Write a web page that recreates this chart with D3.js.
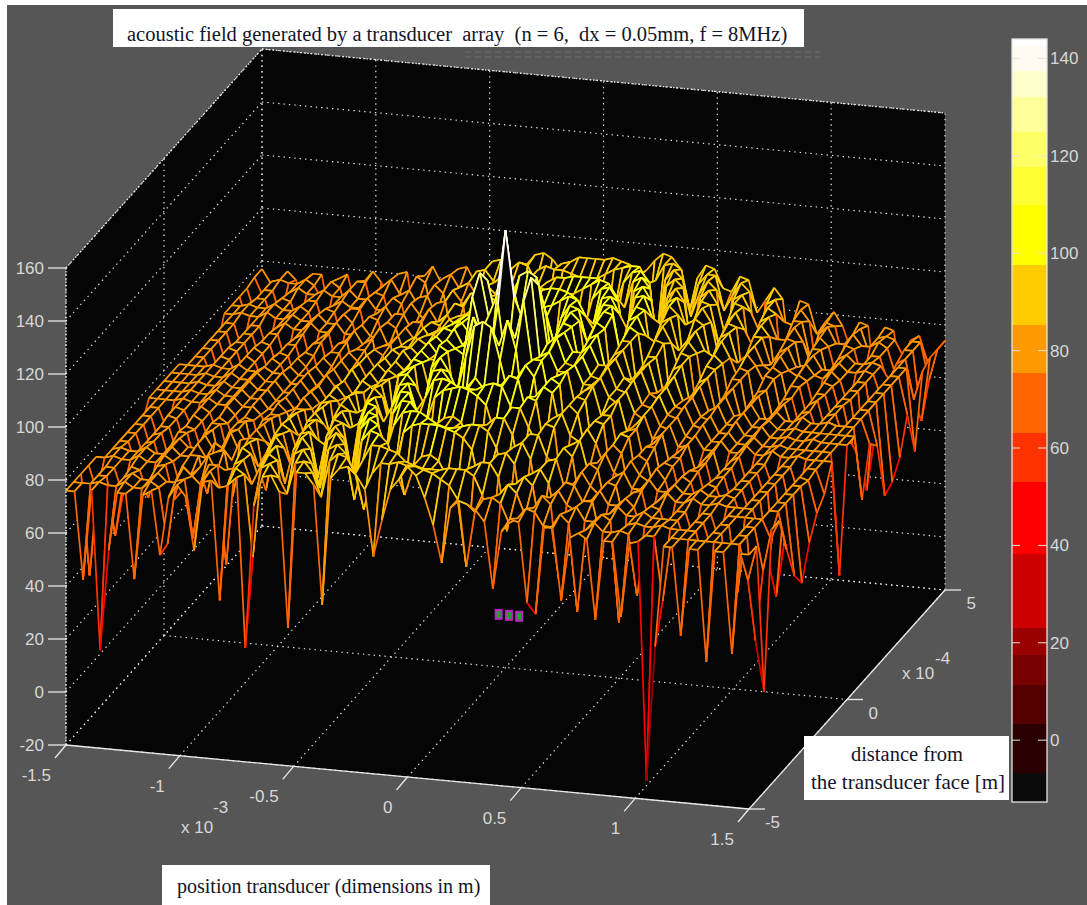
<!DOCTYPE html>
<html>
<head>
<meta charset="utf-8">
<title>acoustic field</title>
<script src="https://cdn.jsdelivr.net/npm/d3@7"></script>
<style>
  body { margin: 0; background: #fff; }
  svg { display: block; }
  text { white-space: pre; }
  .tick { font: 17px "Liberation Sans", Arial, sans-serif; fill: #d8d8d8; }
  .note { font: 20.5px "Liberation Serif", "Times New Roman", serif; fill: #14142a; }
</style>
</head>
<body>
<div id="chart"></div>
<script>
const width = 1087,
  height = 905;

// tick labels
const xTicks = [-1.5, -1, -0.5, 0, 0.5, 1, 1.5];
const yTicks = [-5, 0, 5];
const zTicks = [-20, 0, 20, 40, 60, 80, 100, 120, 140, 160];
const barTicks = [0, 20, 40, 60, 80, 100, 120, 140];

// colour bands
const bandLimits = [-6.8, 3.3, 11.3, 17.5, 23, 38.2, 53, 63, 75.4, 85.2, 97.5, 110, 117.7, 125, 132, 137.4, 142.5];
const bandColors = ["#0a0a0a", "#2a0000", "#550000", "#770000", "#990000", "#cc0000", "#ff0000", "#ff3300", "#ff6600", "#ff9900", "#ffcc00", "#ffff00", "#ffff33", "#ffff66", "#ffff99", "#ffffcc", "#fffaf0", "#ffffff"];

// transducer elements seen on the floor
const elementX = [-0.03, 0.015, 0.06];

// mesh positions: 81 columns in x (x 10^-3), 27 rows in y (x 10^-4)
const xValues = d3.range(-40, 41).map((i) => (i * 1.5) / 40);
const yValues = d3.range(-13, 14).map((j) => (j * 5) / 13);

// field level in dB, front row (y = -5) first
const fieldLevels = [
  [76,76,43,77,17,55,77,77,45,77,79,55,77,82,78,58,84,85,40,84,87,23,77,88,89,83,32,91,91,87,42,90,94,95,92,87,62,76,88,92,97,94,86,76,62,83,86,85,83,79,54,76,81,80,50,46,79,79,52,76,78,76,46,76,76,48,76,77,-13,38,76,76,43,76,76,34,76,76,38,76,76],
  [76,76,76,77,76,76,78,76,76,79,77,56,80,81,59,81,85,79,80,87,85,54,88,90,85,79,91,92,88,79,93,96,95,89,76,90,94,94,95,94,94,93,92,90,88,83,58,79,84,85,83,76,78,82,81,76,76,81,78,45,76,79,76,76,77,76,53,76,76,52,76,76,76,76,76,76,76,76,76,63,76],
  [76,38,76,76,54,76,78,76,76,79,76,76,82,79,76,84,84,47,85,87,78,85,90,88,62,91,93,88,79,94,96,93,76,91,97,97,96,95,92,91,90,90,90,91,91,91,89,82,60,83,87,84,76,79,84,81,52,79,81,76,76,79,77,39,76,77,76,76,77,76,76,76,76,63,76,76,51,76,76,37,18],
  [76,66,76,76,66,77,76,66,78,79,66,79,76,79,84,78,79,80,88,86,76,87,90,76,89,94,90,76,94,97,93,76,95,99,98,95,85,76,86,91,92,90,84,76,80,89,91,91,86,66,84,87,84,66,80,83,78,76,80,80,66,76,79,76,76,78,76,76,76,76,66,76,76,66,76,76,51,76,76,60,76],
  [76,76,77,76,76,78,76,76,79,77,66,80,80,66,82,83,66,83,87,78,84,90,86,78,92,93,76,92,96,92,76,96,100,98,89,82,96,99,100,100,100,99,98,96,92,77,83,91,92,88,66,85,87,82,66,83,82,76,77,81,76,76,79,76,66,77,76,66,76,76,66,76,76,66,76,76,76,76,76,69,76],
  [66,76,77,76,76,78,76,76,79,76,76,81,76,82,80,76,84,85,85,66,87,88,76,87,92,87,85,95,94,76,94,99,98,76,95,100,101,101,99,97,96,96,97,98,98,96,90,76,91,93,87,66,87,88,77,79,84,79,76,81,80,66,78,79,66,76,79,76,76,78,76,76,77,76,76,76,76,66,76,76,62],
  [66,76,76,66,76,77,66,76,79,76,76,81,76,77,83,76,78,85,81,77,88,86,76,90,91,66,92,95,89,91,99,98,76,96,101,101,97,77,87,96,97,95,85,76,95,98,98,92,76,93,93,85,82,89,86,66,84,82,66,80,82,76,76,80,76,76,79,76,76,78,76,76,77,76,66,76,76,53,76,76,49],
  [66,76,76,66,76,77,66,78,78,66,78,80,66,80,81,76,80,84,76,82,87,81,83,90,86,82,94,92,76,96,98,89,95,101,101,91,90,100,103,104,105,104,102,99,89,90,99,99,92,86,94,93,66,87,89,77,81,85,78,76,83,78,76,81,77,66,79,77,66,77,76,66,76,76,66,76,76,37,76,76,43],
  [66,76,76,66,76,76,66,77,76,66,79,79,66,80,81,66,82,83,66,84,86,76,86,89,77,88,94,88,90,98,95,82,100,101,91,96,103,104,103,101,101,101,103,104,103,96,91,100,99,80,93,95,87,85,90,85,76,85,82,66,82,80,66,80,79,66,78,78,66,76,77,66,76,76,66,76,76,53,76,76,55],
  [66,76,76,66,77,76,66,78,76,66,78,76,66,79,78,66,81,81,66,84,84,66,87,88,66,90,92,76,94,96,84,100,101,97,90,103,104,100,80,98,102,98,80,100,104,103,90,97,101,99,84,95,92,76,90,89,66,86,85,66,82,82,66,79,79,66,76,78,66,76,77,66,76,76,66,76,76,62,76,75,63],
  [68,76,76,68,77,76,69,78,76,68,79,76,70,80,77,70,82,79,72,85,81,72,87,85,76,89,89,72,94,95,69,99,101,78,101,105,100,93,106,118,120,118,106,93,100,105,101,78,101,99,68,95,94,71,89,89,72,84,85,71,80,84,71,78,81,70,76,79,68,76,78,67,76,76,67,76,76,66,76,76,67],
  [76,76,76,76,77,76,76,78,76,76,79,76,76,80,76,76,81,77,76,84,80,78,87,83,80,90,88,84,95,93,87,100,99,87,106,104,80,106,118,108,104,108,118,107,80,104,104,88,99,101,87,94,96,85,89,92,80,83,87,78,80,84,76,77,81,76,76,80,76,76,79,76,76,78,76,76,77,76,76,76,76],
  [76,76,76,76,77,76,76,78,76,76,79,76,76,80,76,76,81,76,77,83,78,79,86,81,82,90,86,87,95,92,92,100,97,97,105,102,100,122,109,96,120,96,108,122,99,102,104,97,97,100,93,93,96,89,87,92,84,82,87,80,79,84,77,76,82,76,76,80,76,76,79,76,76,77,76,76,76,76,76,76,30],
  [76,76,76,76,77,76,76,78,76,76,79,76,76,80,76,76,81,77,78,84,80,80,87,82,82,90,87,87,96,92,92,100,96,98,106,100,98,128,112,120,145,120,112,128,98,100,106,97,96,100,93,92,97,89,88,93,84,83,88,81,80,85,78,77,82,76,76,81,76,76,80,76,76,77,76,76,77,76,76,76,76],
  [76,76,76,76,77,76,76,78,76,76,79,76,76,80,76,76,81,76,77,83,78,78,86,80,81,89,85,86,94,91,91,99,96,97,105,101,100,122,108,96,120,96,109,122,100,103,105,98,98,101,94,94,97,90,88,93,85,83,88,81,80,85,78,77,83,76,76,81,76,76,79,76,76,77,76,76,76,76,76,76,76],
  [76,76,76,76,77,76,76,78,76,76,78,76,76,79,76,76,80,76,76,83,79,77,86,81,78,89,87,83,94,92,86,99,98,87,104,103,80,106,118,108,106,108,118,107,80,105,104,88,100,102,88,95,97,86,90,93,82,85,89,80,82,86,77,79,83,76,77,81,76,76,79,76,76,78,76,76,77,76,76,76,49],
  [68,76,76,68,77,76,69,78,76,68,78,76,69,79,76,69,80,77,70,83,80,70,85,83,71,87,87,70,92,93,66,97,99,76,100,104,99,92,106,118,120,118,106,94,101,106,103,80,103,101,71,97,97,74,92,92,76,88,90,75,84,86,73,80,83,71,78,81,70,76,79,69,76,77,68,76,77,67,76,76,67],
  [66,76,76,66,77,76,66,78,76,66,77,76,66,78,77,66,79,79,66,81,81,66,83,84,66,86,88,66,90,92,81,96,98,94,88,101,102,99,80,98,102,98,80,100,105,104,92,99,104,103,87,99,97,76,95,94,66,91,90,66,87,86,66,83,83,66,79,80,66,77,78,66,76,78,66,76,77,63,76,76,63],
  [66,76,76,66,76,76,66,77,76,66,77,77,66,78,79,66,79,80,66,80,82,66,81,84,76,83,88,83,85,92,90,77,96,97,88,93,101,103,102,100,100,101,103,105,104,98,93,103,103,85,98,100,93,91,97,91,80,92,88,66,88,85,66,84,83,66,82,81,66,79,79,66,77,77,66,76,76,55,76,76,41],
  [66,76,76,66,76,76,66,77,77,66,76,78,66,77,79,66,77,81,76,78,83,76,78,84,80,76,87,86,66,90,91,83,89,96,96,88,87,98,101,103,104,104,103,101,91,92,102,103,97,91,100,99,76,95,97,85,89,93,86,84,90,84,76,86,82,76,82,80,66,80,78,66,78,77,66,76,76,39,76,76,43],
  [66,76,76,66,76,76,66,76,78,76,76,79,76,76,80,76,76,80,76,76,82,80,66,83,83,66,84,87,80,82,90,89,76,89,95,95,93,76,84,94,97,96,87,78,98,102,103,98,78,100,101,93,91,98,95,66,94,92,76,88,90,79,82,86,79,77,83,78,76,81,77,76,79,76,66,76,76,55,76,76,49],
  [76,76,77,76,76,78,76,76,78,76,76,79,76,76,80,77,66,80,79,66,82,82,76,80,85,80,78,88,87,66,87,92,90,76,89,95,97,97,96,95,95,96,98,100,102,101,96,77,99,101,96,76,96,98,88,90,95,90,76,90,89,60,86,86,76,81,83,76,77,81,76,76,79,76,76,77,76,67,76,76,62],
  [76,76,77,76,76,78,76,76,78,76,66,78,77,66,79,79,66,78,81,76,78,83,79,76,84,85,66,84,89,86,66,89,93,92,84,78,92,96,98,98,99,99,99,99,96,82,89,99,101,97,67,94,98,93,72,94,93,79,87,91,85,79,87,83,60,83,82,66,80,80,66,77,79,76,76,77,76,71,76,76,45],
  [76,66,76,76,66,77,76,66,77,77,66,76,78,76,76,80,76,76,81,79,66,82,83,76,81,86,82,66,86,89,86,66,88,93,93,91,81,76,85,90,92,91,87,76,85,95,99,100,96,67,95,98,95,69,92,95,90,77,91,90,65,85,87,79,79,84,79,70,81,78,66,79,78,66,76,76,66,74,76,61,72],
  [76,66,76,76,66,76,78,76,76,78,76,76,79,76,76,79,78,66,79,81,76,78,84,81,66,84,86,81,76,87,90,87,76,86,93,95,94,94,93,92,91,92,94,96,97,98,98,92,71,94,98,95,81,90,95,92,63,89,91,85,78,87,85,46,83,83,69,79,82,76,76,80,76,76,78,76,66,76,76,50,74],
  [77,70,76,77,76,76,78,76,70,78,76,66,79,79,66,78,81,76,76,83,81,66,83,85,80,76,87,88,84,76,89,92,91,85,76,88,93,94,96,96,96,96,97,96,95,91,67,90,96,97,95,80,90,94,94,81,87,92,89,55,85,87,79,78,84,80,58,80,79,66,76,79,70,76,77,76,70,76,76,62,74],
  [77,72,67,77,74,60,77,77,60,76,78,66,76,80,76,70,80,81,60,80,84,78,73,84,85,79,80,88,89,84,65,88,92,93,91,87,67,73,86,89,90,89,86,74,68,90,94,97,96,92,68,89,94,93,86,85,91,90,78,83,88,84,56,84,83,72,77,81,76,67,78,77,50,77,76,54,73,75,65,70,74]
];

const colorOf = d3.scaleThreshold().domain(bandLimits).range(bandColors);

// the box is a plain parallel projection: origin at the left bottom corner
const originX = 66,
  originY = 745;
const xToLeft = d3.scaleLinear().domain([-1.5, 1.5]).range([0, 683]);
const xToTop = d3.scaleLinear().domain([-1.5, 1.5]).range([0, 64]);
const yToLeft = d3.scaleLinear().domain([-5, 5]).range([0, 196]);
const yToTop = d3.scaleLinear().domain([-5, 5]).range([0, -219]);
const zToTop = d3.scaleLinear().domain([-20, 160]).range([0, -477]);

function project(x, y, z) {
  return [originX + xToLeft(x) + yToLeft(y), originY + xToTop(x) + yToTop(y) + zToTop(z)];
}

const line = d3.line();

const svg = d3.select("#chart").append("svg").attr("width", width).attr("height", height);

svg.append("rect").attr("x", 7).attr("y", 5).attr("width", width - 7).attr("height", height - 5).attr("fill", "#565656");

// faint smear under the title
[52, 57].forEach((y) => {
  svg.append("line").attr("x1", 465).attr("x2", 820).attr("y1", y).attr("y2", y)
    .attr("stroke", "#626262").attr("stroke-width", 2).attr("stroke-dasharray", "6 4");
});

// black box walls and floor
svg.append("path")
  .attr("d", line([project(-1.5, -5, 160), project(-1.5, 5, 160), project(1.5, 5, 160), project(1.5, 5, -20), project(1.5, -5, -20), project(-1.5, -5, -20)]) + "Z")
  .attr("fill", "#050505");

// dotted grid
const gridLines = [];
xTicks.forEach((x) => {
  gridLines.push([project(x, -5, -20), project(x, 5, -20)]);
  gridLines.push([project(x, 5, -20), project(x, 5, 160)]);
});
yTicks.forEach((y) => {
  gridLines.push([project(-1.5, y, -20), project(1.5, y, -20)]);
  gridLines.push([project(-1.5, y, -20), project(-1.5, y, 160)]);
});
zTicks.forEach((z) => {
  gridLines.push([project(-1.5, -5, z), project(-1.5, 5, z)]);
  gridLines.push([project(-1.5, 5, z), project(1.5, 5, z)]);
});
svg.append("g").selectAll("path").data(gridLines).join("path")
  .attr("d", line)
  .attr("fill", "none")
  .attr("stroke", "#e4e4e4")
  .attr("stroke-width", 1.2)
  .attr("stroke-dasharray", "1.4 4");

// transducer elements
const elements = svg.append("g").selectAll("g").data(elementX).join("g")
  .attr("transform", (d) => "translate(" + project(d, 0, 0) + ")");
elements.append("rect").attr("x", -4).attr("y", -5).attr("width", 8).attr("height", 11).attr("fill", "#c020c0");
elements.append("rect").attr("x", -2).attr("y", -3).attr("width", 4).attr("height", 7).attr("fill", "#20a030");

// mesh, painted from the far corner to the viewer so the black faces hide what is behind
function edgePiece(a, b) {
  const high = Math.max(a.z, b.z),
    low = Math.min(a.z, b.z);
  return {
    d: line([project(a.x, a.y, a.z), project(b.x, b.y, b.z)]),
    fill: "none",
    stroke: colorOf(high * 0.7 + low * 0.3),
  };
}

const pieces = [];
for (let r = yValues.length - 2; r >= 0; r--) {
  for (let c = 0; c < xValues.length - 1; c++) {
    const corner = (rr, cc) => ({ x: xValues[cc], y: yValues[rr], z: fieldLevels[rr][cc] });
    const p = [corner(r, c), corner(r, c + 1), corner(r + 1, c + 1), corner(r + 1, c)];
    pieces.push({ d: line(p.map((q) => project(q.x, q.y, q.z))) + "Z", fill: "#050505", stroke: "none" });
    pieces.push(edgePiece(p[3], p[2]), edgePiece(p[0], p[3]), edgePiece(p[1], p[2]), edgePiece(p[0], p[1]));
  }
}
svg.append("g").selectAll("path").data(pieces).join("path")
  .attr("d", (d) => d.d)
  .attr("fill", (d) => d.fill)
  .attr("stroke", (d) => d.stroke)
  .attr("stroke-width", 1.7);

// box outline and ticks
const axisColor = "#e8e8e8";
function addLine(a, b, dash) {
  svg.append("path").attr("d", line([a, b])).attr("stroke", axisColor).attr("stroke-width", 1.3)
    .attr("fill", "none").attr("stroke-dasharray", dash || null);
}
addLine(project(-1.5, -5, -20), project(1.5, -5, -20));
addLine(project(1.5, -5, -20), project(1.5, 5, -20));
addLine(project(-1.5, -5, -20), project(-1.5, -5, 160), "1.5 2");
addLine(project(-1.5, -5, 160), project(-1.5, 5, 160), "1.5 2");
addLine(project(-1.5, 5, 160), project(1.5, 5, 160), "1.5 2");

zTicks.forEach((z) => {
  const p = project(-1.5, -5, z);
  addLine(p, [p[0] - 18, p[1]]);
  svg.append("text").attr("class", "tick").attr("x", p[0] - 22).attr("y", p[1] + 6).attr("text-anchor", "end").text(z);
});
xTicks.forEach((x) => {
  const p = project(x, -5, -20);
  addLine(p, [p[0] - 11, p[1] + 13]);
  svg.append("text").attr("class", "tick").attr("x", p[0] - 15).attr("y", p[1] + 36).attr("text-anchor", "end").text(x);
});
yTicks.forEach((y) => {
  const p = project(1.5, y, -20);
  addLine(p, [p[0] + 16, p[1]]);
  svg.append("text").attr("class", "tick").attr("x", p[0] + 31).attr("y", p[1] + 19).attr("text-anchor", "end").text(y);
});

// axis exponents
svg.append("text").attr("class", "tick").attr("x", 181).attr("y", 833).text("x 10");
svg.append("text").attr("class", "tick").attr("x", 213).attr("y", 813).text("-3");
svg.append("text").attr("class", "tick").attr("x", 902).attr("y", 679).text("x 10");
svg.append("text").attr("class", "tick").attr("x", 935).attr("y", 664).text("-4");

// colour bar
const barScale = d3.scaleLinear().domain([-12.7, 144]).range([802, 39]);
const barEdges = [-12.7, ...bandLimits, 144];
svg.append("g").selectAll("rect").data(bandColors).join("rect")
  .attr("x", 1012)
  .attr("width", 35)
  .attr("y", (d, i) => Math.round(barScale(barEdges[i + 1])))
  .attr("height", (d, i) => Math.round(barScale(barEdges[i])) - Math.round(barScale(barEdges[i + 1])))
  .attr("fill", (d) => d);
svg.append("rect").attr("x", 1012).attr("y", 39).attr("width", 35).attr("height", 763)
  .attr("fill", "none").attr("stroke", "#e4e4e4").attr("stroke-width", 1.3);
barTicks.forEach((t) => {
  const y = barScale(t);
  svg.append("line").attr("x1", 1012).attr("x2", 1020).attr("y1", y).attr("y2", y).attr("stroke", "#e4e4e4");
  svg.append("line").attr("x1", 1038).attr("x2", 1047).attr("y1", y).attr("y2", y).attr("stroke", "#e4e4e4");
  svg.append("text").attr("class", "tick").attr("x", 1050).attr("y", y + 6).text(t);
});

// white note boxes
function noteBox(x, y, w, h) {
  svg.append("rect").attr("x", x).attr("y", y).attr("width", w).attr("height", h).attr("fill", "#fff");
}
noteBox(113, 9, 691, 38);
svg.append("text").attr("class", "note").attr("x", 127).attr("y", 41)
  .text("acoustic field generated by a transducer  array  (n = 6,  dx = 0.05mm, f = 8MHz)");
noteBox(162, 865, 328, 40);
svg.append("text").attr("class", "note").attr("x", 177).attr("y", 893).style("font-size", "20px")
  .text("position transducer (dimensions in m)");
noteBox(804, 736, 205, 64);
svg.append("text").attr("class", "note").attr("x", 907).attr("y", 761).attr("text-anchor", "middle").text("distance from");
svg.append("text").attr("class", "note").attr("x", 908).attr("y", 789).attr("text-anchor", "middle").style("font-size", "21px").text("the transducer face [m]");
</script>
</body>
</html>
